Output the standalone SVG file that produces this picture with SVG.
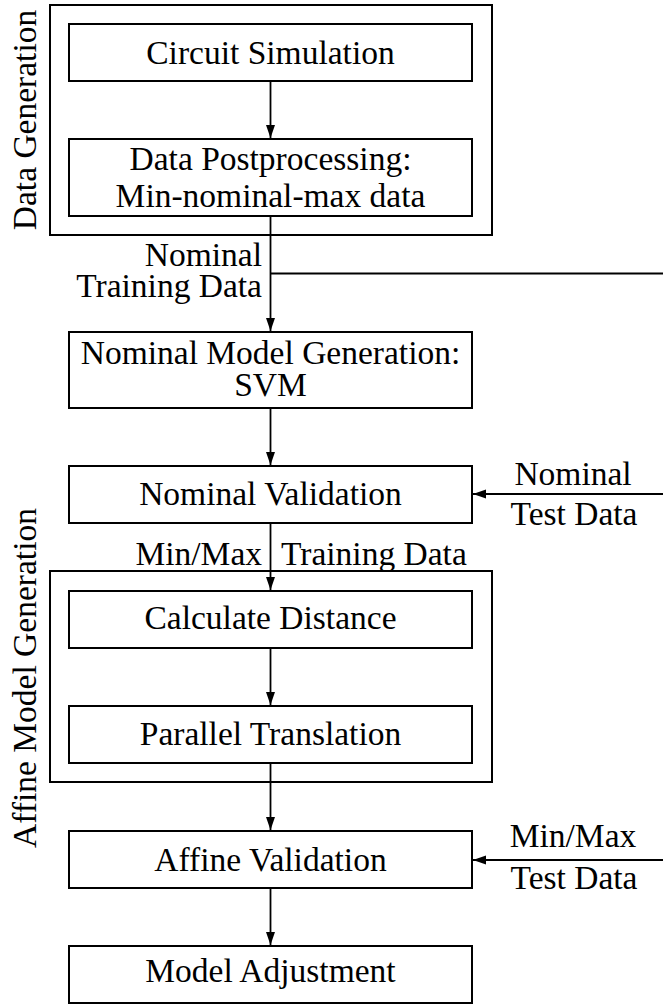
<svg xmlns="http://www.w3.org/2000/svg" width="663" height="1005" viewBox="0 0 663 1005">
  <style>
    .box { fill: #ffffff; stroke: #000000; stroke-width: 2; }
    .frame { fill: none; stroke: #000000; stroke-width: 2; }
    .lbl { font-family: "Liberation Serif", "Times New Roman", serif; font-size: 33.5px; fill: #000000; }
    .mid { text-anchor: middle; }
    .end { text-anchor: end; }
    .wire { fill: none; stroke: #000000; stroke-width: 1.8; }
  </style>
  <defs>
    <marker id="head" markerUnits="userSpaceOnUse" markerWidth="14" markerHeight="10" refX="13" refY="4.5" orient="auto">
      <path d="M0,0 L13,4.5 L0,9 z" fill="#000000"/>
    </marker>
  </defs>
  <rect width="663" height="1005" fill="#ffffff"/>

  <!-- group frames -->
  <g id="data-generation">
    <rect class="frame" x="50" y="5" width="442" height="230"/>
    <text class="lbl mid" transform="translate(36,120) rotate(-90)">Data Generation</text>
  </g>
  <g id="affine-model-generation">
    <rect class="frame" x="50" y="571" width="442" height="211"/>
    <text class="lbl mid" transform="translate(36,678) rotate(-90)">Affine Model Generation</text>
  </g>

  <!-- process steps -->
  <g id="circuit-simulation">
    <rect class="box" x="69" y="24" width="403" height="57"/>
    <text class="lbl mid" x="270.5" y="64">Circuit Simulation</text>
  </g>
  <g id="data-postprocessing">
    <rect class="box" x="69" y="139" width="403" height="77"/>
    <text class="lbl mid" x="270.5" y="170">Data Postprocessing:</text>
    <text class="lbl mid" x="270.5" y="206.5">Min-nominal-max data</text>
  </g>
  <g id="nominal-model-generation">
    <rect class="box" x="69" y="332" width="403" height="76"/>
    <text class="lbl mid" x="270.5" y="364">Nominal Model Generation:</text>
    <text class="lbl mid" x="270.5" y="396">SVM</text>
  </g>
  <g id="nominal-validation">
    <rect class="box" x="69" y="466" width="403" height="57"/>
    <text class="lbl mid" x="270.5" y="505">Nominal Validation</text>
  </g>
  <g id="calculate-distance">
    <rect class="box" x="69" y="591" width="403" height="57"/>
    <text class="lbl mid" x="270.5" y="629">Calculate Distance</text>
  </g>
  <g id="parallel-translation">
    <rect class="box" x="69" y="706" width="403" height="57"/>
    <text class="lbl mid" x="270.5" y="745">Parallel Translation</text>
  </g>
  <g id="affine-validation">
    <rect class="box" x="69" y="831" width="403" height="57"/>
    <text class="lbl mid" x="270.5" y="871">Affine Validation</text>
  </g>
  <g id="model-adjustment">
    <rect class="box" x="69" y="946" width="403" height="57"/>
    <text class="lbl mid" x="270.5" y="982">Model Adjustment</text>
  </g>

  <!-- connectors -->
  <g id="connectors">
    <line class="wire" x1="270.5" y1="81" x2="270.5" y2="138" marker-end="url(#head)"/>
    <line class="wire" x1="270.5" y1="216" x2="270.5" y2="331" marker-end="url(#head)"/>
    <line class="wire" x1="270.5" y1="273.5" x2="663" y2="273.5"/>
    <line class="wire" x1="270.5" y1="408" x2="270.5" y2="465" marker-end="url(#head)"/>
    <line class="wire" x1="663" y1="494" x2="473" y2="494" marker-end="url(#head)"/>
    <line class="wire" x1="270.5" y1="523" x2="270.5" y2="590" marker-end="url(#head)"/>
    <line class="wire" x1="270.5" y1="648" x2="270.5" y2="705" marker-end="url(#head)"/>
    <line class="wire" x1="270.5" y1="763" x2="270.5" y2="830" marker-end="url(#head)"/>
    <line class="wire" x1="663" y1="860" x2="473" y2="860" marker-end="url(#head)"/>
    <line class="wire" x1="270.5" y1="888" x2="270.5" y2="945" marker-end="url(#head)"/>

    <text class="lbl end" x="262" y="266">Nominal</text>
    <text class="lbl end" x="262" y="297">Training Data</text>
    <text class="lbl mid" x="573" y="485">Nominal</text>
    <text class="lbl mid" x="574" y="525">Test Data</text>
    <text class="lbl end" x="262" y="565">Min/Max</text>
    <text class="lbl" x="281" y="565">Training Data</text>
    <text class="lbl mid" x="573" y="846.5">Min/Max</text>
    <text class="lbl mid" x="574" y="889">Test Data</text>
  </g>
</svg>
